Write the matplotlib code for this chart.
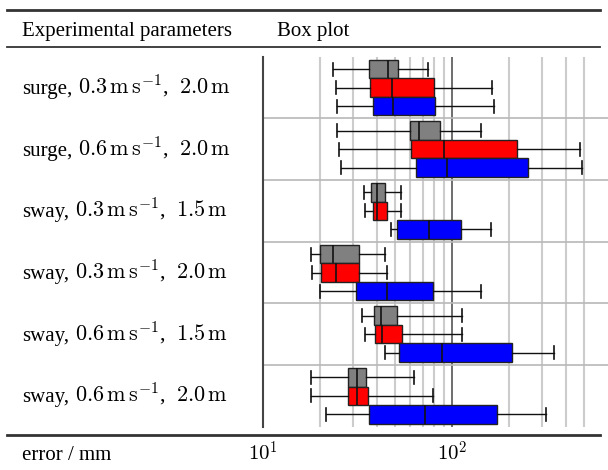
import matplotlib
matplotlib.use("Agg")
import matplotlib.pyplot as plt
from matplotlib.lines import Line2D
import matplotlib.transforms as mtransforms

plt.rcParams['font.family'] = ['Liberation Serif', 'DejaVu Serif']
plt.rcParams['mathtext.fontset'] = 'cm'

row_prefixes = ["surge,", "surge,", "sway,", "sway,", "sway,", "sway,"]
row_params = [
    r"$0.3\,\mathrm{m\,s^{-1}}$,  $2.0\,\mathrm{m}$",
    r"$0.6\,\mathrm{m\,s^{-1}}$,  $2.0\,\mathrm{m}$",
    r"$0.3\,\mathrm{m\,s^{-1}}$,  $1.5\,\mathrm{m}$",
    r"$0.3\,\mathrm{m\,s^{-1}}$,  $2.0\,\mathrm{m}$",
    r"$0.6\,\mathrm{m\,s^{-1}}$,  $1.5\,\mathrm{m}$",
    r"$0.6\,\mathrm{m\,s^{-1}}$,  $2.0\,\mathrm{m}$",
]

# [whislo, q1, med, q3, whishi] per row
gray_stats = [
    [23.4, 36.1, 45.9, 51.8, 74.1],
    [24.6, 59.7, 66.9, 86.4, 141.4],
    [34.2, 37.3, 40.0, 44.2, 53.5],
    [17.8, 19.9, 23.5, 32.1, 43.9],
    [33.2, 38.4, 42.0, 50.8, 112.1],
    [17.8, 28.0, 31.3, 35.1, 63.0],
]
red_stats = [
    [24.3, 36.8, 48.0, 79.7, 162.8],
    [25.0, 60.7, 90.0, 220.6, 474.0],
    [34.5, 37.9, 40.1, 45.3, 53.5],
    [18.0, 20.1, 24.2, 32.1, 45.0],
    [34.5, 39.2, 42.3, 54.4, 113.0],
    [17.8, 28.2, 31.4, 35.9, 79.4],
]
blue_stats = [
    [24.4, 37.9, 48.4, 81.3, 166.8],
    [25.9, 64.0, 93.7, 252.4, 488.0],
    [47.4, 51.2, 75.5, 111.6, 160.3],
    [19.9, 30.8, 45.0, 79.4, 142.5],
    [44.3, 52.0, 88.5, 207.7, 343.9],
    [21.5, 36.4, 71.7, 171.8, 314.3],
]
tick_values = [10, 100]
tick_labels = [r"$10^{1}$", r"$10^{2}$"]

series = [(gray_stats, '#808080'), (red_stats, '#ff0000'), (blue_stats, '#0000ff')]
offsets = [-0.3, 0.0, 0.3]

W, H = 608, 470
fig = plt.figure(figsize=(W / 100, H / 100), dpi=100)
ax = fig.add_axes([263.3 / W, 1 - 426.7 / H, (608 - 263.3) / W, (426.7 - 56.7) / H])

ax.set_xscale('log')
xmax = 10 ** (1 + (608 - 263.3) / 189.0)
ax.set_xlim(10, xmax)
ax.set_ylim(6.5, 0.5)

for v in [20, 30, 40, 50, 60, 70, 80, 90, 200, 300, 400, 500]:
    ax.axvline(v, color='#cccccc', lw=1.5, zorder=0)
ax.axvline(100, color='#555555', lw=1.2, zorder=0)
for yb in [1.5, 2.5, 3.5, 4.5, 5.5]:
    ax.axhline(yb, color='#b8b8b8', lw=1.2, zorder=0)

for (stats, col), off in zip(series, offsets):
    bxs = []
    for s in stats:
        bxs.append(dict(whislo=s[0], q1=s[1], med=s[2], q3=s[3], whishi=s[4], fliers=[]))
    pos = [i + 1 + off for i in range(len(stats))]
    ax.bxp(bxs, positions=pos, widths=0.3, capwidths=0.21, orientation='horizontal',
           patch_artist=True, showfliers=False,
           boxprops=dict(facecolor=col, edgecolor='#222222', linewidth=1.0),
           medianprops=dict(color='#111111', linewidth=1.2),
           whiskerprops=dict(color='#111111', linewidth=1.0),
           capprops=dict(color='#111111', linewidth=1.2),
           manage_ticks=False, zorder=3)

for sp in ['top', 'right', 'bottom']:
    ax.spines[sp].set_visible(False)
ax.spines['left'].set_color('#444444')
ax.spines['left'].set_linewidth(1.5)
ax.set_yticks([])
ax.set_xticks([])
ax.minorticks_off()

fs = 15
fs_math = 16
trans = mtransforms.blended_transform_factory(ax.transData, fig.transFigure)
for v, lab in zip(tick_values, tick_labels):
    ax.text(v, 1 - 460.5 / H, lab, transform=trans, fontsize=fs, ha='center', va='baseline',
            clip_on=False)

renderer = fig.canvas.get_renderer()
for i, (pre, par) in enumerate(zip(row_prefixes, row_params)):
    y = 56.7 + (i + 0.5) * (370.0 / 6) + 6.5
    t = fig.text(22 / W, 1 - y / H, pre, fontsize=fs, ha='left', va='baseline')
    bb = t.get_window_extent(renderer=renderer)
    fig.text((bb.x1 + 5.5) / W, 1 - y / H, par, fontsize=fs_math, ha='left', va='baseline')

fig.text(22 / W, 1 - 35.7 / H, 'Experimental parameters', fontsize=fs, ha='left', va='baseline')
fig.text(277 / W, 1 - 35.7 / H, 'Box plot', fontsize=fs, ha='left', va='baseline')
fig.text(22 / W, 1 - 460 / H, 'error / mm', fontsize=fs, ha='left', va='baseline')

def rule(y, lw):
    fig.add_artist(Line2D([7 / W, 600 / W], [1 - y / H, 1 - y / H], transform=fig.transFigure,
                          color='#333333', lw=lw))

rule(10, 2.0)
rule(47, 1.3)
rule(435, 2.0)

fig.savefig('out.png', dpi=100)
